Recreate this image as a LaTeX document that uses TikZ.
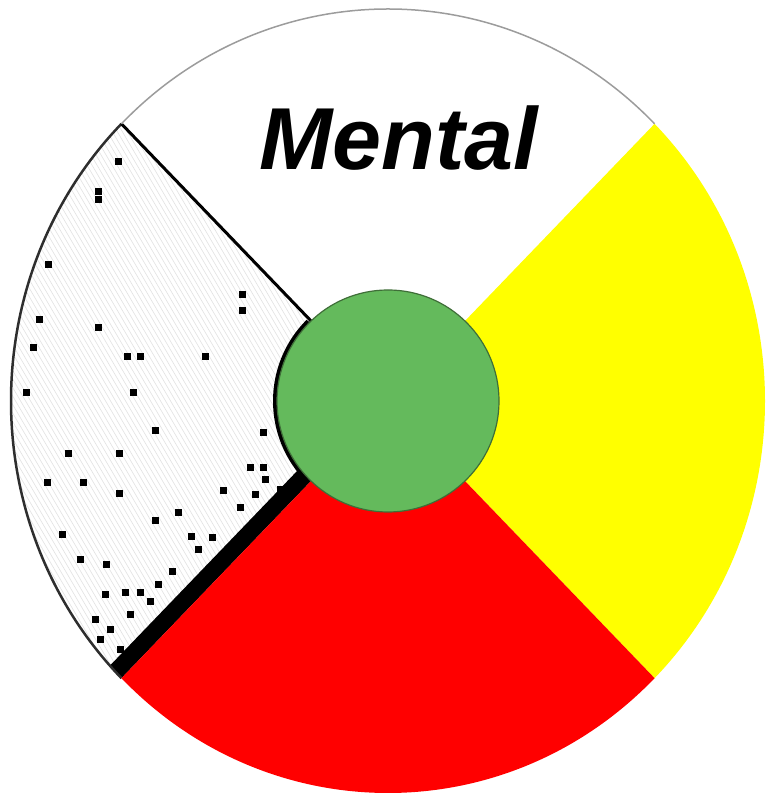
\documentclass[tikz,border=0pt]{standalone}
\usepackage{fontspec}
\setmainfont{Liberation Sans}
\usetikzlibrary{positioning}
\definecolor{WheelYellow}{HTML}{FFFF00}
\definecolor{WheelRed}{HTML}{FF0000}
\definecolor{WheelGreen}{HTML}{64BA5C}
\definecolor{WheelGreenLine}{HTML}{3F6E38}
\definecolor{RimGrey}{HTML}{9C9C9C}
\definecolor{HatchGrey}{HTML}{E2E2E2}
\definecolor{RimDark}{HTML}{2E2E2E}

\begin{document}
\begin{tikzpicture}[x=1pt,y=1pt,
    speck/.style={fill=black},
    hatch/.style={HatchGrey,line width=0.6pt},
    rim/.style={x radius=377,y radius=392},
    hub/.style={circle,minimum size=222pt,inner sep=0pt,fill=WheelGreen,draw=WheelGreenLine,line width=1.2pt},
    wheellabel/.style={font=\fontsize{88}{94}\selectfont\bfseries\itshape,inner sep=0pt}]
  \useasboundingbox (0,0) rectangle (767,800);
  \coordinate (c) at (388,399);
  % top quarter (white)
  \fill[white] (c) -- +(45:377 and 392) arc[rim,start angle=45,end angle=135] -- cycle;
  % left quarter: hatching, specks, black edge along the red
  \begin{scope}
    \clip (c) -- +(135:377 and 392) arc[rim,start angle=135,end angle=225] -- cycle;
    \fill[white] (0,0) rectangle (400,800);
    \foreach \x in {-480,-475,...,300}
      \draw[hatch] (\x,800) -- +(470,-800);
    \draw[black,line width=34pt] (c) -- +(225:377 and 392);
    \foreach \x/\y in {118/638,98/608,98/600,242/505,242/489,98/472,127/443,140/443,205/443,26/407,
                       133/407,39/480,33/452,48/535,155/369,68/346,119/346,47/317,83/317,119/306,
                       155/279,178/287,191/263,106/235,223/309,250/332,263/332,263/367,105/205,125/207,
                       140/207,95/180,110/170,130/185,145/160,120/150,135/140,100/160,80/240,62/265,
                       265/320,280/310,255/305,240/292,212/262,198/250,172/228,158/215,150/198}
      \fill[speck] (\x-3.5,\y-3.5) rectangle +(7,7);
  \end{scope}
  \draw[RimDark,line width=2.5pt] (c) ++(135:377 and 392) arc[rim,start angle=135,end angle=225];
  \draw[black,line width=3pt] (c) -- +(135:377 and 392);
  % right and bottom quarters
  \fill[WheelYellow] (c) -- +(-45:377 and 392) arc[rim,start angle=-45,end angle=45] -- cycle;
  \fill[WheelRed] (c) -- +(-135:377 and 392) arc[rim,start angle=-135,end angle=-45] -- cycle;
  \draw[RimGrey,line width=1.5pt] (c) ++(45:377 and 392) arc[rim,start angle=45,end angle=135];
  % centre
  \draw[black,line width=4pt] (c) ++(135:113) arc[start angle=135,end angle=225,radius=113];
  \node[hub] (centre) at (c) {};
  \node[wheellabel,anchor=base] (mental) at (399,630) {Mental};
\end{tikzpicture}
\end{document}
